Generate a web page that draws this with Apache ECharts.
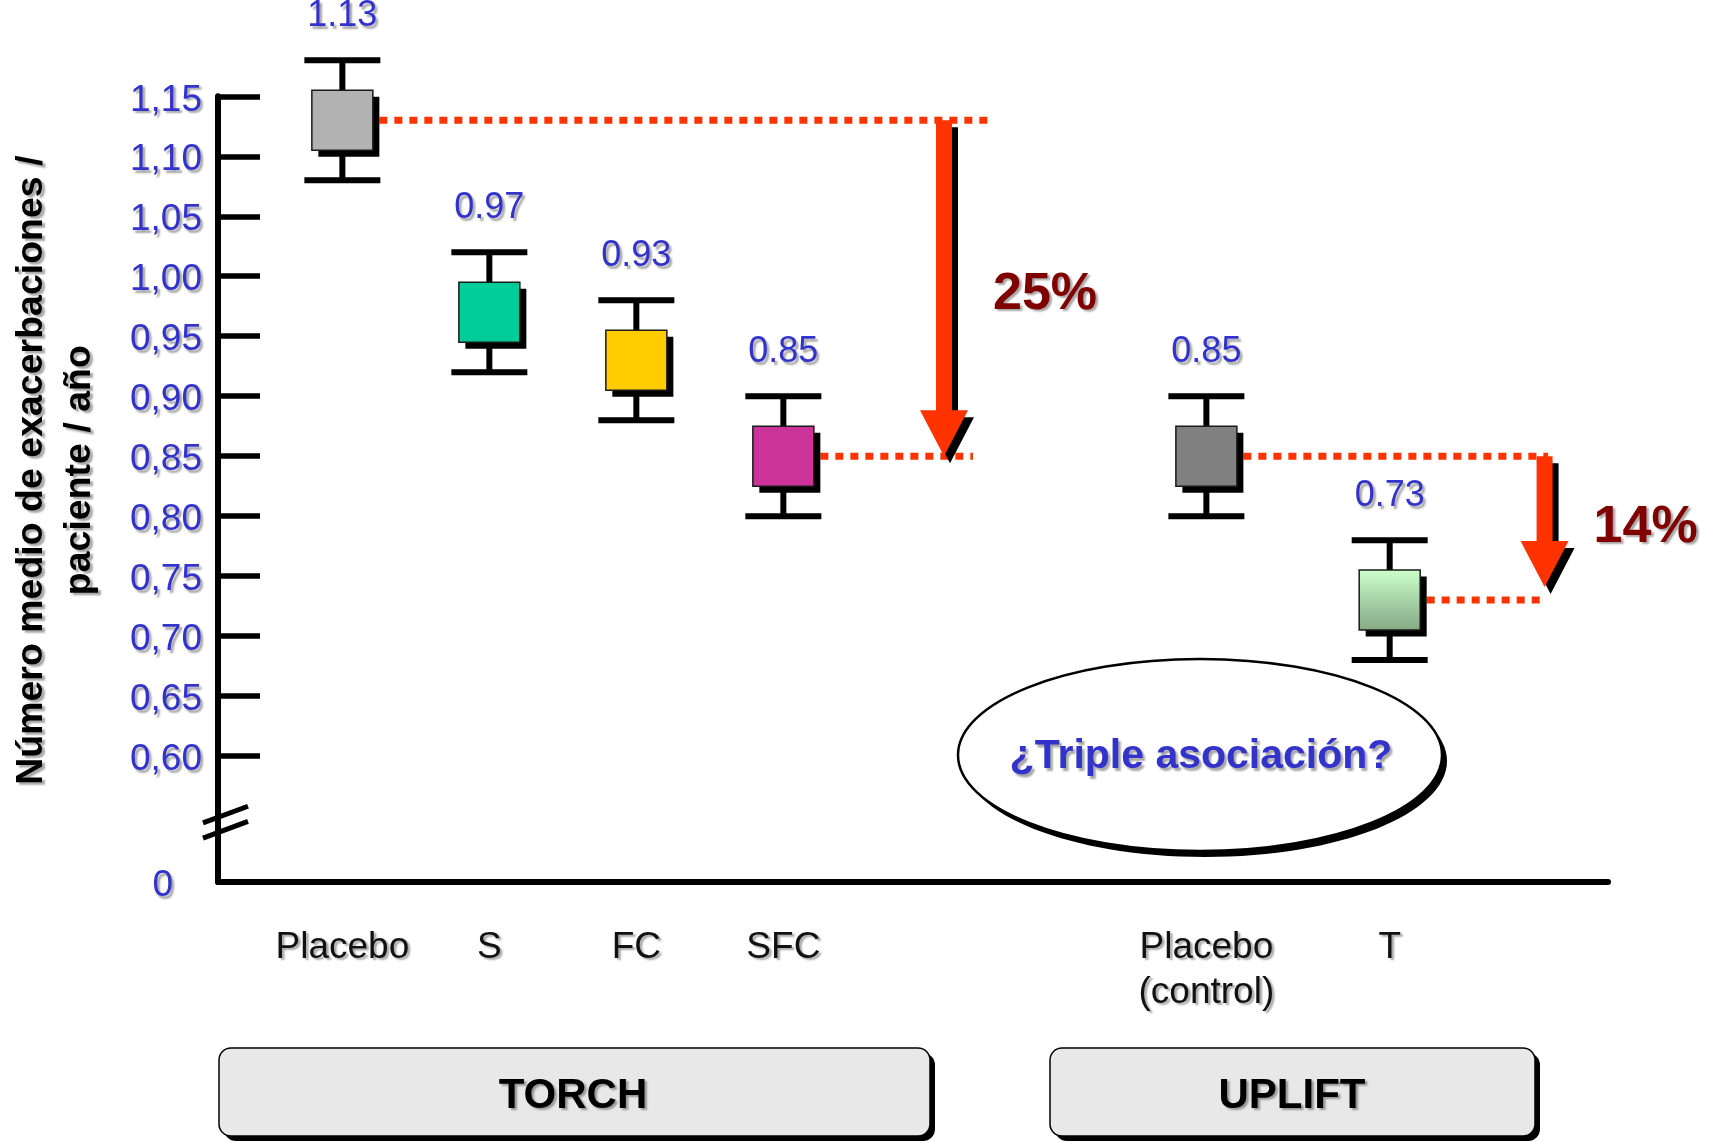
<!DOCTYPE html>
<html>
<head>
<meta charset="utf-8">
<script src="https://cdn.jsdelivr.net/npm/echarts@6.0.0/dist/echarts.min.js"></script>
<style>
  html, body { margin: 0; padding: 0; background: #ffffff; }
  #chart { width: 1715px; height: 1142px; }
</style>
</head>
<body>
<div id="chart"></div>
<script>
// Mean number of exacerbations per patient per year, TORCH and UPLIFT trials
const torchCategories = ['Placebo', 'S', 'FC', 'SFC'];
const torchMean = [1.13, 0.97, 0.93, 0.85];
const torchBoxLow = [1.105, 0.945, 0.905, 0.825];
const torchBoxHigh = [1.155, 0.995, 0.955, 0.875];
const torchWhiskerLow = [1.08, 0.92, 0.88, 0.80];
const torchWhiskerHigh = [1.18, 1.02, 0.98, 0.90];

const upliftCategories = ['Placebo\n(control)', 'T'];
const upliftMean = [0.85, 0.73];
const upliftBoxLow = [0.825, 0.705];
const upliftBoxHigh = [0.875, 0.755];
const upliftWhiskerLow = [0.80, 0.68];
const upliftWhiskerHigh = [0.90, 0.78];

const yTickValues = [0.60, 0.65, 0.70, 0.75, 0.80, 0.85, 0.90, 0.95, 1.00, 1.05, 1.10, 1.15];
const studyNames = ['TORCH', 'UPLIFT'];
const reductionLabels = ['25%', '14%'];
const calloutText = '¿Triple asociación?';
const yAxisTitle = 'Número medio de exacerbaciones /\npaciente / año';

// ---- styles ----
const FONT = '"Liberation Sans", Arial, Helvetica, sans-serif';
const BLUE = '#3333cc';
const RED = '#ff3300';
const MAROON = '#800000';
const SHADOW = { textShadowColor: 'rgba(0,0,0,0.35)', textShadowBlur: 2, textShadowOffsetX: 2.5, textShadowOffsetY: 2.5 };

const torchFills = ['#b2b2b2', '#00cc99', '#ffcc00', '#cc3399'];
const upliftFills = [
  '#808080',
  new echarts.graphic.LinearGradient(0, 0, 0, 1, [
    { offset: 0, color: '#ccffcc' },
    { offset: 1, color: '#84a884' }
  ])
];

function rows(mean, bl, bh, wl, wh) {
  return mean.map((m, i) => [i, m, bl[i], bh[i], wl[i], wh[i]]);
}

// box + whisker glyph with offset drop shadow and value label
function boxRenderer(fills) {
  return function (params, api) {
    const i = api.value(0);
    const mean = api.value(1);
    const xc = api.coord([i, mean])[0];
    const yBL = api.coord([i, api.value(2)])[1];
    const yBH = api.coord([i, api.value(3)])[1];
    const yWL = api.coord([i, api.value(4)])[1];
    const yWH = api.coord([i, api.value(5)])[1];
    const boxW = 61, capW = 76, off = 6.5, lw = 6;
    return {
      type: 'group',
      children: [
        { type: 'line', shape: { x1: xc, y1: yWH, x2: xc, y2: yWL }, style: { stroke: '#000', lineWidth: lw } },
        { type: 'line', shape: { x1: xc - capW / 2, y1: yWH, x2: xc + capW / 2, y2: yWH }, style: { stroke: '#000', lineWidth: lw } },
        { type: 'line', shape: { x1: xc - capW / 2, y1: yWL, x2: xc + capW / 2, y2: yWL }, style: { stroke: '#000', lineWidth: lw } },
        { type: 'rect', shape: { x: xc - boxW / 2 + off, y: yBH + off, width: boxW, height: yBL - yBH }, style: { fill: '#000' } },
        { type: 'rect', shape: { x: xc - boxW / 2, y: yBH, width: boxW, height: yBL - yBH }, style: { fill: fills[params.dataIndex], stroke: '#1a1a1a', lineWidth: 1.5 } },
        {
          type: 'text',
          style: Object.assign({
            text: mean.toFixed(2), x: xc, y: yWH - 44,
            align: 'center', verticalAlign: 'middle',
            font: 'normal 36px ' + FONT, fill: BLUE
          }, SHADOW)
        }
      ]
    };
  };
}

// dotted reference lines plus the drop arrow between two groups
function dropRenderer(cfg) {
  return function (params, api) {
    const pFrom = api.coord([api.value(0), api.value(1)]);
    const pTo = api.coord([api.value(2), api.value(3)]);
    const ax = api.coord([cfg.arrowAt, api.value(1)])[0];
    const upperEnd = api.coord([cfg.upperEnd, api.value(1)])[0];
    const lowerEnd = api.coord([cfg.lowerEnd, api.value(3)])[0];
    const yTop = pFrom[1];
    const yTip = pTo[1] - cfg.tipLift;
    const sw = 8, hw = 24, hl = 46;
    const pts = [
      [ax - sw, yTop], [ax + sw, yTop], [ax + sw, yTip - hl], [ax + hw, yTip - hl],
      [ax, yTip], [ax - hw, yTip - hl], [ax - sw, yTip - hl]
    ];
    const shadowPts = pts.map(p => [p[0] + 6, p[1] + 7]);
    const dotted = { stroke: RED, lineWidth: 7, lineDash: [8, 7] };
    return {
      type: 'group',
      children: [
        { type: 'line', shape: { x1: pFrom[0] + 37, y1: yTop, x2: upperEnd, y2: yTop }, style: dotted },
        { type: 'line', shape: { x1: pTo[0] + 37, y1: pTo[1], x2: lowerEnd, y2: pTo[1] }, style: dotted },
        { type: 'polygon', shape: { points: shadowPts }, style: { fill: '#000' } },
        { type: 'polygon', shape: { points: pts }, style: { fill: RED } },
        {
          type: 'text',
          style: Object.assign({
            text: cfg.label, x: ax + 101, y: (yTop + yTip) / 2 + 6,
            align: 'center', verticalAlign: 'middle',
            font: 'bold 52px ' + FONT, fill: MAROON
          }, SHADOW)
        }
      ]
    };
  };
}

// double-slash break mark across the value axis
function breakRenderer(params, api) {
  const p = api.coord([api.value(0), api.value(1)]);
  const mk = dy => ({
    type: 'line',
    shape: { x1: p[0] - 15, y1: p[1] + dy + 8.3, x2: p[0] + 30, y2: p[1] + dy - 8.3 },
    style: { stroke: '#000', lineWidth: 5 }
  });
  return { type: 'group', children: [mk(-7.6), mk(7.6)] };
}

const TORCH_MIN = -0.846, TORCH_MAX = 8.61;
const UPLIFT_MIN = -5.392, UPLIFT_MAX = 2.191;
const Y_FLOOR = 0.495;

const chart = echarts.init(document.getElementById('chart'), null, { renderer: 'canvas' });

const xLabelStyle = {
  fontFamily: FONT, fontSize: 37, color: '#111', lineHeight: 45, margin: 43,
  ...SHADOW
};

chart.setOption({
  animation: false,
  backgroundColor: '#ffffff',
  grid: { left: 218, right: 107, top: 96.3, bottom: 260, containLabel: false, outerBoundsMode: 'none' },
  xAxis: [
    {
      type: 'value', position: 'bottom', min: TORCH_MIN, max: TORCH_MAX,
      axisLine: { show: true, onZero: false, lineStyle: { color: '#000', width: 6 } },
      axisTick: { show: false }, splitLine: { show: false },
      axisLabel: Object.assign({
        customValues: torchCategories.map((c, i) => i),
        formatter: v => torchCategories[Math.round(v)] || ''
      }, xLabelStyle)
    },
    {
      type: 'value', position: 'bottom', min: UPLIFT_MIN, max: UPLIFT_MAX,
      axisLine: { show: false, onZero: false }, axisTick: { show: false }, splitLine: { show: false },
      axisLabel: Object.assign({
        customValues: upliftCategories.map((c, i) => i),
        formatter: v => upliftCategories[Math.round(v)] || ''
      }, xLabelStyle)
    }
  ],
  yAxis: {
    type: 'value', position: 'left', min: Y_FLOOR, max: 1.15,
    name: yAxisTitle, nameLocation: 'middle', nameRotate: 90, nameGap: 114,
    nameTextStyle: Object.assign({
      fontFamily: FONT, fontSize: 37.5, fontWeight: 'bold', color: '#000', lineHeight: 48,
      padding: [0, 0, 0, 38]
    }, SHADOW),
    axisLine: { show: true, onZero: false, lineStyle: { color: '#000', width: 6 } },
    axisTick: { show: true, inside: true, length: 42, customValues: yTickValues, lineStyle: { color: '#000', width: 5.5 } },
    splitLine: { show: false },
    axisLabel: Object.assign({
      customValues: [Y_FLOOR].concat(yTickValues),
      margin: 16, fontFamily: FONT, fontSize: 37, color: BLUE,
      padding: [8, 0, 0, 0],
      formatter: v => v < 0.55 ? '{z|0}' : v.toFixed(2).replace('.', ','),
      rich: { z: Object.assign({ fontFamily: FONT, fontSize: 37, color: BLUE, padding: [0, 29, 0, 0] }, SHADOW) }
    }, SHADOW)
  },
  series: [
    {
      type: 'custom', xAxisIndex: 0, clip: false, z: 3,
      encode: { x: 0, y: [1, 2, 3, 4, 5] },
      data: rows(torchMean, torchBoxLow, torchBoxHigh, torchWhiskerLow, torchWhiskerHigh),
      renderItem: boxRenderer(torchFills)
    },
    {
      type: 'custom', xAxisIndex: 1, clip: false, z: 3,
      encode: { x: 0, y: [1, 2, 3, 4, 5] },
      data: rows(upliftMean, upliftBoxLow, upliftBoxHigh, upliftWhiskerLow, upliftWhiskerHigh),
      renderItem: boxRenderer(upliftFills)
    },
    {
      type: 'custom', xAxisIndex: 0, clip: false, z: 2,
      encode: { x: [0, 2], y: [1, 3] },
      data: [[0, torchMean[0], 3, torchMean[3]]],
      renderItem: dropRenderer({ arrowAt: 4.093, upperEnd: 4.392, lowerEnd: 4.29, tipLift: 0, label: reductionLabels[0] })
    },
    {
      type: 'custom', xAxisIndex: 1, clip: false, z: 2,
      encode: { x: [0, 2], y: [1, 3] },
      data: [[0, upliftMean[0], 1, upliftMean[1]]],
      renderItem: dropRenderer({ arrowAt: 1.845, upperEnd: 1.864, lowerEnd: 1.85, tipLift: 13, label: reductionLabels[1] })
    },
    {
      type: 'custom', xAxisIndex: 0, clip: false, z: 4,
      encode: { x: 0, y: 1 },
      data: [[TORCH_MIN, 0.5449]],
      renderItem: breakRenderer
    }
  ],
  graphic: [
    // callout ellipse
    { type: 'ellipse', shape: { cx: 1205, cy: 761, rx: 242, ry: 96 }, style: { fill: '#000' }, z: 10 },
    { type: 'ellipse', shape: { cx: 1200, cy: 755, rx: 242, ry: 96 }, style: { fill: '#ffffff', stroke: '#000', lineWidth: 2.5 }, z: 11 },
    {
      type: 'text', z: 12,
      style: Object.assign({
        text: calloutText, x: 1201, y: 757, align: 'center', verticalAlign: 'middle',
        textAlign: 'center', textVerticalAlign: 'middle',
        font: 'bold 41px ' + FONT, fill: BLUE
      }, SHADOW)
    },
    // study group panels
    { type: 'rect', shape: { x: 224, y: 1053, width: 711, height: 88, r: 12 }, style: { fill: '#000' }, z: 10 },
    { type: 'rect', shape: { x: 219, y: 1048, width: 711, height: 88, r: 12 }, style: { fill: '#e8e8e8', stroke: '#000', lineWidth: 1.5 }, z: 11 },
    {
      type: 'text', z: 12,
      style: Object.assign({
        text: studyNames[0], x: 573, y: 1096, align: 'center', verticalAlign: 'middle',
        textAlign: 'center', textVerticalAlign: 'middle',
        font: 'bold 42px ' + FONT, fill: '#000'
      }, SHADOW)
    },
    { type: 'rect', shape: { x: 1055, y: 1053, width: 485, height: 88, r: 12 }, style: { fill: '#000' }, z: 10 },
    { type: 'rect', shape: { x: 1050, y: 1048, width: 485, height: 88, r: 12 }, style: { fill: '#e8e8e8', stroke: '#000', lineWidth: 1.5 }, z: 11 },
    {
      type: 'text', z: 12,
      style: Object.assign({
        text: studyNames[1], x: 1292, y: 1096, align: 'center', verticalAlign: 'middle',
        textAlign: 'center', textVerticalAlign: 'middle',
        font: 'bold 42px ' + FONT, fill: '#000'
      }, SHADOW)
    }
  ]
});
</script>
</body>
</html>
